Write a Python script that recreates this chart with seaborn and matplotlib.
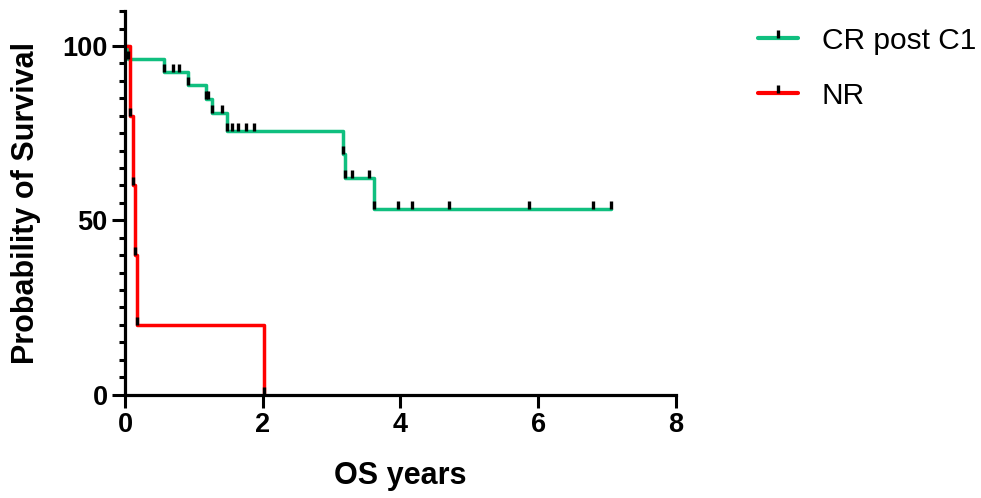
import matplotlib

matplotlib.use("Agg")

import matplotlib.pyplot as plt
import numpy as np
import pandas as pd
import seaborn as sns
from matplotlib.lines import Line2D
from matplotlib.path import Path

# Kaplan-Meier steps (years, % surviving after the step)
cr_event_times = [0.05, 0.57, 0.91, 1.18, 1.27, 1.48, 3.17, 3.20, 3.61]
cr_event_surv = [96.3, 92.6, 88.7, 84.8, 80.8, 75.7, 69.0, 62.0, 53.2]
cr_censor_times = [0.69, 0.78, 1.21, 1.41, 1.56, 1.64, 1.76, 1.88,
                   3.30, 3.54, 3.97, 4.17, 4.70, 5.86, 6.80, 7.06]
cr_last_time = 7.06

nr_event_times = [0.07, 0.11, 0.15, 0.17, 2.02]
nr_event_surv = [80.0, 60.0, 40.0, 20.0, 0.0]
nr_censor_times = []
nr_last_time = 2.02

group_labels = ["CR post C1", "NR"]
group_colors = ["#10BF7F", "#FF0000"]

x_ticks = [0, 2, 4, 6, 8]
y_ticks = [0, 50, 100]


def step_frame(label, event_times, event_surv, last_time):
    times = [0.0] + list(event_times) + [last_time]
    surv = [100.0] + list(event_surv) + [event_surv[-1]]
    return pd.DataFrame({"time": times, "survival": surv, "group": label})


def level_at(times, event_times, event_surv):
    steps = np.concatenate([[100.0], event_surv])
    idx = np.searchsorted(event_times, times, side="right")
    return steps[idx]


sns.set_theme(style="ticks")
plt.rcParams["font.family"] = ["Liberation Sans", "DejaVu Sans"]
plt.rcParams.update({
    "text.color": "black",
    "axes.labelcolor": "black",
    "xtick.color": "black",
    "ytick.color": "black",
})

fig = plt.figure(figsize=(9.81, 4.98), dpi=100)
ax = fig.add_axes([0.1274, 0.2078, 0.5617, 0.7697])

curves = pd.concat([
    step_frame(group_labels[0], cr_event_times, cr_event_surv, cr_last_time),
    step_frame(group_labels[1], nr_event_times, nr_event_surv, nr_last_time),
])

sns.lineplot(
    data=curves,
    x="time",
    y="survival",
    hue="group",
    palette=dict(zip(group_labels, group_colors)),
    estimator=None,
    sort=False,
    drawstyle="steps-post",
    linewidth=2.5,
    legend=False,
    ax=ax,
)

# tick-style marks sitting on top of the curve
tick_mark = Path([(0, 0), (0, 1)])
for ev_t, ev_s, cen_t in [
    (cr_event_times, cr_event_surv, cr_censor_times),
    (nr_event_times, nr_event_surv, nr_censor_times),
]:
    mx = list(ev_t) + list(cen_t)
    my = list(ev_s) + list(level_at(np.array(cen_t, dtype=float), ev_t, ev_s))
    ax.plot(mx, my, linestyle="none", marker=tick_mark, markersize=11,
            markeredgewidth=2.4, markeredgecolor="black", clip_on=False, zorder=4)

ax.set_xlim(0, 8)
ax.set_ylim(0, 110)
ax.set_xticks(x_ticks)
ax.set_yticks(y_ticks)
ax.set_yticks(np.arange(0, 111, 5), minor=True)
ax.tick_params(axis="both", which="major", length=9.5, width=2.2,
               labelsize=19.5, pad=3)
ax.tick_params(axis="y", which="minor", length=4.5, width=2.2)
for lbl in ax.get_xticklabels() + ax.get_yticklabels():
    lbl.set_fontweight("bold")

sns.despine(ax=ax)
for side in ["left", "bottom"]:
    ax.spines[side].set_linewidth(2.3)
    ax.spines[side].set_color("black")

ax.set_xlabel("OS years", fontsize=22, fontweight="bold", labelpad=17)
ax.set_ylabel("Probability of Survival", fontsize=22, fontweight="bold", labelpad=15)

handles = [
    Line2D([], [], color=c, linewidth=3, marker=tick_mark, markersize=11,
           markeredgewidth=2.4, markeredgecolor="black")
    for c in group_colors
]
fig.legend(
    handles,
    group_labels,
    loc="upper left",
    bbox_to_anchor=(758 / 981, 0.946),
    frameon=False,
    fontsize=21.5,
    handlelength=1.34,
    handletextpad=0.8,
    labelspacing=0.9,
    borderpad=0,
    borderaxespad=0,
    numpoints=1,
)

fig.savefig("out.png", dpi=100)
